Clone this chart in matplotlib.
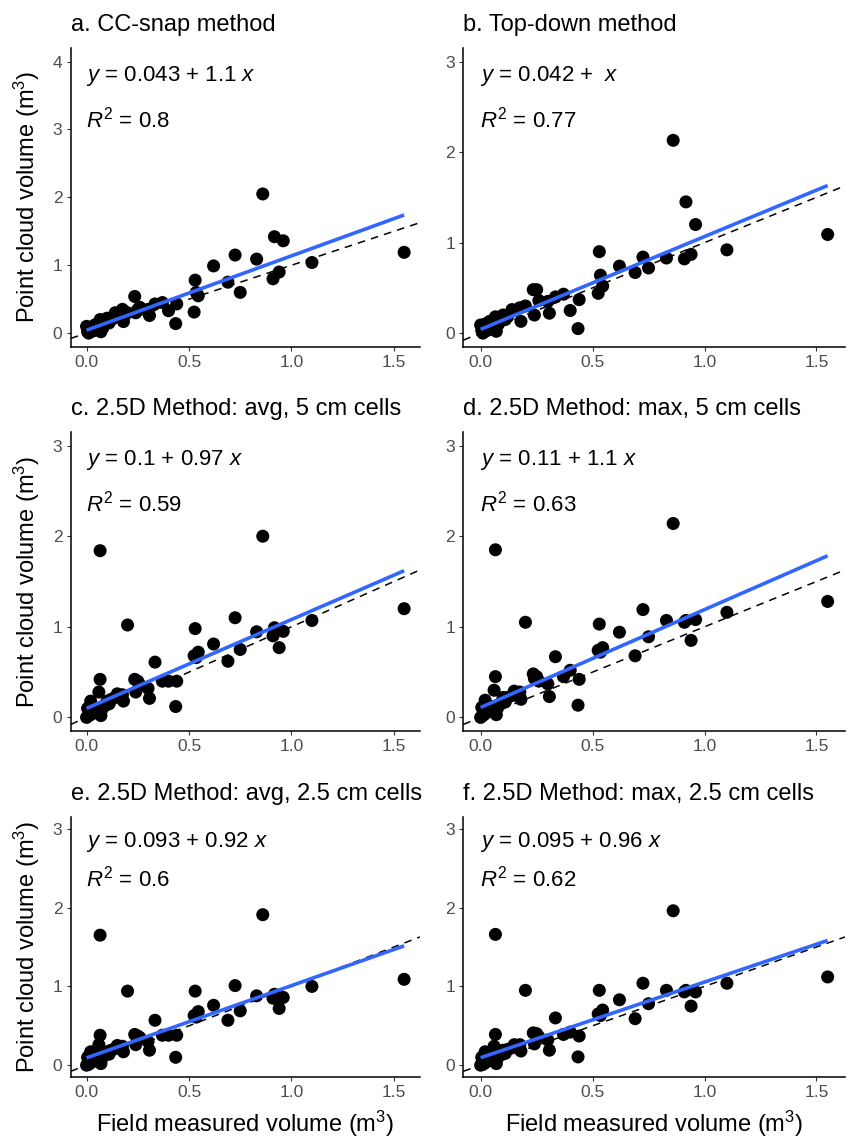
import matplotlib
matplotlib.use("Agg")
import matplotlib.pyplot as plt
import numpy as np

plt.rcParams['font.family'] = ['Liberation Sans', 'DejaVu Sans']
plt.rcParams['mathtext.fontset'] = 'custom'
plt.rcParams['mathtext.rm'] = 'Liberation Sans'
plt.rcParams['mathtext.it'] = 'Liberation Sans:italic'
plt.rcParams['mathtext.bf'] = 'Liberation Sans:bold'

# ---------------- data ----------------
titles = ["a. CC-snap method", "b. Top-down method",
          "c. 2.5D Method: avg, 5 cm cells", "d. 2.5D Method: max, 5 cm cells",
          "e. 2.5D Method: avg, 2.5 cm cells", "f. 2.5D Method: max, 2.5 cm cells"]

field_volume = [1.55, 1.10, 0.96, 0.94, 0.917, 0.91, 0.86, 0.83, 0.75, 0.725,
                0.69, 0.62, 0.545, 0.53, 0.525, 0.535, 0.44, 0.435, 0.40, 0.37,
                0.334, 0.307, 0.30, 0.26, 0.24, 0.235, 0.25, 0.20, 0.175, 0.18,
                0.15, 0.14, 0.12, 0.11, 0.10, 0.08, 0.075, 0.066, 0.066, 0.07,
                0.06, 0.05, 0.04, 0.03, 0.02, 0.01, 0.00, 0.005, 0.02, 0.09]

cc_snap = [1.19, 1.04, 1.36, 0.90, 1.42, 0.80, 2.05, 1.09, 0.60, 1.15,
           0.75, 0.99, 0.55, 0.78, 0.31, 0.60, 0.43, 0.14, 0.33, 0.45,
           0.43, 0.26, 0.35, 0.38, 0.30, 0.54, 0.35, 0.30, 0.35, 0.17,
           0.25, 0.30, 0.20, 0.15, 0.22, 0.08, 0.12, 0.10, 0.20, 0.02,
           0.14, 0.05, 0.12, 0.03, 0.08, 0.00, 0.10, 0.02, 0.05, 0.16]

top_down = [1.09, 0.92, 1.20, 0.87, 1.45, 0.82, 2.13, 0.83, 0.72, 0.84,
            0.67, 0.74, 0.52, 0.90, 0.44, 0.64, 0.37, 0.05, 0.25, 0.43,
            0.40, 0.22, 0.35, 0.36, 0.20, 0.48, 0.48, 0.30, 0.28, 0.13,
            0.25, 0.26, 0.18, 0.15, 0.20, 0.10, 0.12, 0.07, 0.18, 0.02,
            0.12, 0.05, 0.13, 0.03, 0.10, 0.00, 0.09, 0.03, 0.06, 0.14]

avg_5cm = [1.20, 1.07, 0.95, 0.77, 0.99, 0.90, 2.00, 0.945, 0.75, 1.10,
           0.62, 0.81, 0.72, 0.98, 0.68, 0.66, 0.40, 0.12, 0.40, 0.40,
           0.61, 0.21, 0.32, 0.36, 0.28, 0.42, 0.40, 1.02, 0.25, 0.18,
           0.26, 0.22, 0.20, 0.15, 0.18, 0.12, 0.09, 1.84, 0.42, 0.02,
           0.28, 0.10, 0.08, 0.05, 0.18, 0.02, 0.00, 0.10, 0.03, 0.13]

max_5cm = [1.28, 1.16, 1.08, 0.85, 1.07, 1.05, 2.14, 1.07, 0.89, 1.19,
           0.68, 0.94, 0.77, 1.03, 0.74, 0.72, 0.42, 0.135, 0.52, 0.45,
           0.67, 0.23, 0.37, 0.40, 0.43, 0.48, 0.45, 1.05, 0.28, 0.20,
           0.29, 0.24, 0.22, 0.17, 0.22, 0.14, 0.10, 1.85, 0.45, 0.03,
           0.30, 0.12, 0.10, 0.06, 0.19, 0.02, 0.00, 0.11, 0.04, 0.15]

avg_25cm = [1.09, 1.00, 0.86, 0.72, 0.90, 0.85, 1.91, 0.88, 0.69, 1.01,
            0.57, 0.76, 0.68, 0.94, 0.63, 0.61, 0.38, 0.10, 0.38, 0.38,
            0.57, 0.19, 0.30, 0.35, 0.26, 0.39, 0.37, 0.94, 0.24, 0.17,
            0.25, 0.21, 0.19, 0.14, 0.17, 0.12, 0.09, 1.65, 0.38, 0.02,
            0.26, 0.10, 0.08, 0.05, 0.17, 0.01, 0.00, 0.10, 0.03, 0.13]

max_25cm = [1.12, 1.04, 0.93, 0.75, 0.95, 0.93, 1.96, 0.95, 0.78, 1.04,
            0.59, 0.83, 0.70, 0.95, 0.65, 0.63, 0.37, 0.105, 0.42, 0.39,
            0.60, 0.19, 0.32, 0.36, 0.27, 0.41, 0.40, 0.95, 0.26, 0.18,
            0.26, 0.22, 0.20, 0.15, 0.19, 0.12, 0.09, 1.66, 0.39, 0.02,
            0.24, 0.10, 0.08, 0.05, 0.17, 0.01, 0.00, 0.10, 0.03, 0.13]

point_cloud = [cc_snap, top_down, avg_5cm, max_5cm, avg_25cm, max_25cm]

intercepts = [0.043, 0.042, 0.10, 0.11, 0.093, 0.095]
slopes = [1.095, 1.025, 0.98, 1.08, 0.917, 0.96]
eq_intercept_txt = ["0.043", "0.042", "0.1", "0.11", "0.093", "0.095"]
eq_slope_txt = ["1.1", "", "0.97", "1.1", "0.92", "0.96"]
r2_txt = ["0.8", "0.77", "0.59", "0.63", "0.6", "0.62"]

x_ticks = [0.0, 0.5, 1.0, 1.5]
x_ticklabels = ["0.0", "0.5", "1.0", "1.5"]
y_ticks_list = [[0, 1, 2, 3, 4], [0, 1, 2, 3], [0, 1, 2, 3],
                [0, 1, 2, 3], [0, 1, 2, 3], [0, 1, 2, 3]]
y_max_list = [4, 3, 3, 3, 3, 3]

# ---------------- layout ----------------
W, H = 847, 1141
DPI = 100
fig = plt.figure(figsize=(W / DPI, H / DPI), dpi=DPI)
fig.patch.set_facecolor("white")

cols = [(70.7, 420.0), (463.3, 845.0)]
rows = [(48.0, 346.7), (432.0, 731.0), (817.0, 1077.0)]

def px_rect(l, t, r, b):
    return [l / W, 1 - b / H, (r - l) / W, (b - t) / H]

xmin_d, xmax_d = min(field_volume), max(field_volume)
xr = xmax_d - xmin_d
xlim = (xmin_d - 0.05 * xr, xmax_d + 0.05 * xr)

axes = []
for i in range(6):
    r, c = divmod(i, 2)
    l, rr = cols[c]
    t, b = rows[r]
    ax = fig.add_axes(px_rect(l, t, rr, b))
    axes.append(ax)
    x = np.array(field_volume)
    y = np.array(point_cloud[i])
    ymax = y_max_list[i]
    ax.set_xlim(*xlim)
    ax.set_ylim(-0.05 * ymax, ymax * 1.05)

    # 1:1 dashed reference line
    xx = np.array(xlim)
    ax.plot(xx, xx, color="black", lw=1.1, ls=(0, (5, 4)), zorder=2)
    # points
    ax.scatter(x, y, s=88, color="black", edgecolors="none", zorder=3)
    # regression line
    xl = np.array([xmin_d, xmax_d])
    ax.plot(xl, intercepts[i] + slopes[i] * xl, color="#3366FF", lw=2.6,
            solid_capstyle="butt", zorder=4)

    # axes styling
    for s in ["top", "right"]:
        ax.spines[s].set_visible(False)
    for s in ["left", "bottom"]:
        ax.spines[s].set_linewidth(1.1)
        ax.spines[s].set_color("black")
    ax.set_xticks(x_ticks)
    ax.set_xticklabels(x_ticklabels)
    ax.set_yticks(y_ticks_list[i])
    ax.tick_params(axis="both", length=3.0, width=0.8, color="#333333",
                   labelcolor="#4D4D4D", labelsize=12.5, pad=3.0)

    # annotations
    slope_part = eq_slope_txt[i]
    eq = r"$\mathit{y}$ = " + eq_intercept_txt[i] + " + " + slope_part + r" $\mathit{x}$"
    ax.text(0.045, 0.905, eq, transform=ax.transAxes, fontsize=16,
            ha="left", va="center", color="black")
    ax.text(0.045, 0.762, r"$\mathit{R}^2$ = " + r2_txt[i], transform=ax.transAxes,
            fontsize=16, ha="left", va="center", color="black")

    # title
    ax.annotate(titles[i], xy=(0, 1), xycoords="axes fraction",
                xytext=(0, 23 * 0.72), textcoords="offset points",
                ha="left", va="center", fontsize=17, color="black")

# y labels (left column)
for r in range(3):
    t, b = rows[r]
    fig.text(27 / W, 1 - ((t + b) / 2) / H, r"Point cloud volume (m$^3$)",
             rotation=90, ha="center", va="center", fontsize=17)

# x labels (bottom row)
for c in range(2):
    l, rr = cols[c]
    fig.text(((l + rr) / 2) / W, 1 - 1124 / H, r"Field measured volume (m$^3$)",
             ha="center", va="center", fontsize=17)

fig.savefig("out.png", dpi=DPI, facecolor="white")
